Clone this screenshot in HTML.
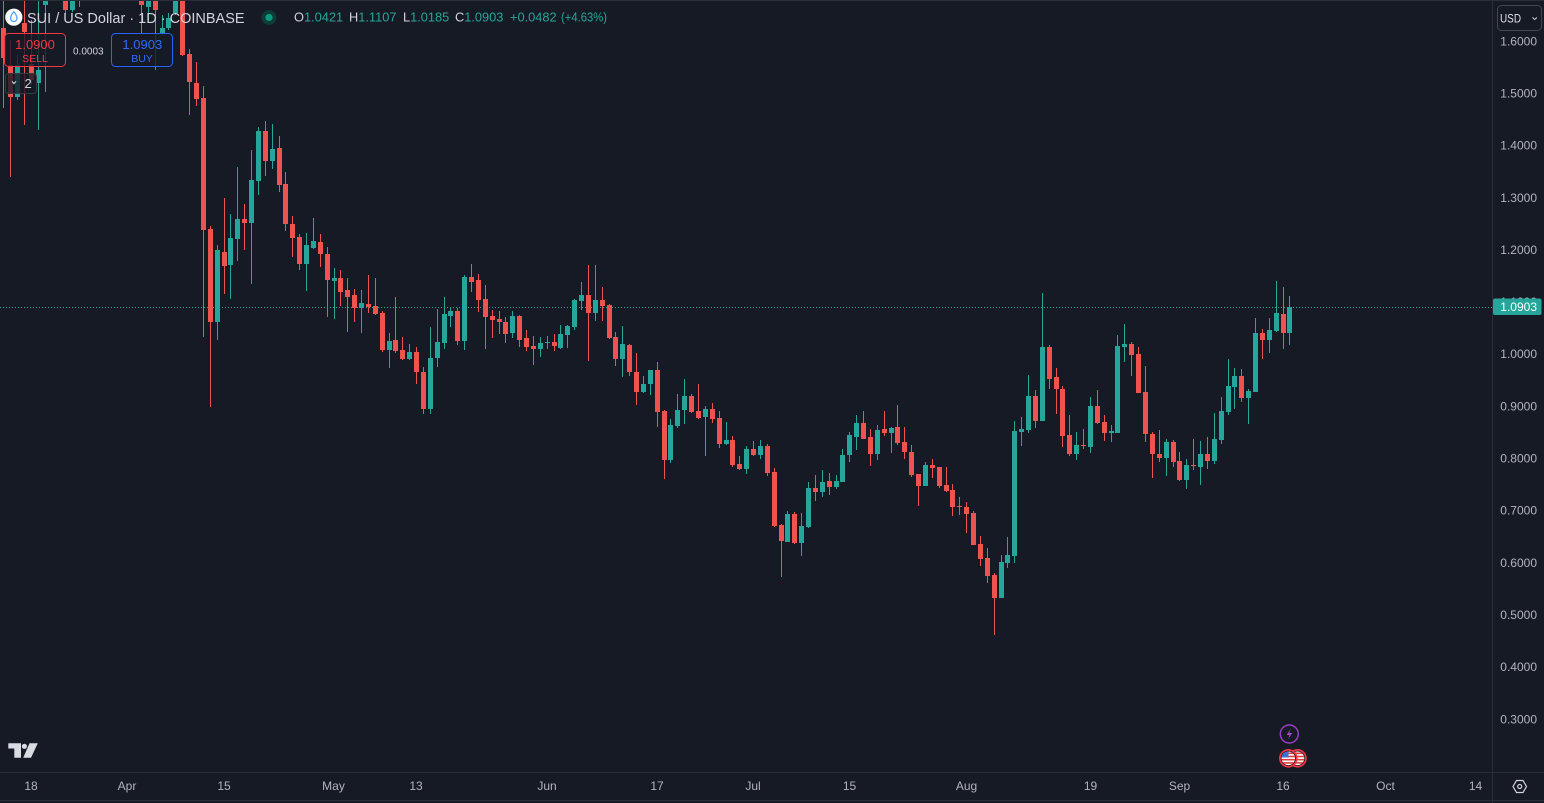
<!DOCTYPE html>
<html><head><meta charset="utf-8"><style>
html,body{margin:0;padding:0;background:#161a25;width:1544px;height:803px;overflow:hidden}
svg{display:block}
text{font-family:"Liberation Sans",Arial,sans-serif}
</style></head><body>
<svg width="1544" height="803" viewBox="0 0 1544 803" xmlns="http://www.w3.org/2000/svg">
<defs>
<clipPath id="pane"><rect x="0" y="1" width="1492" height="771"/></clipPath>
<clipPath id="f1"><circle cx="1288.3" cy="758.3" r="6.8"/></clipPath>
<clipPath id="f2"><circle cx="1297.5" cy="758.3" r="6.8"/></clipPath>
</defs>
<rect x="0" y="0" width="1544" height="803" fill="#161a25"/>

<!-- price line -->
<line x1="0" y1="307.5" x2="1492" y2="307.5" stroke="#26a69a" stroke-width="1" stroke-dasharray="1 2"/>

<g clip-path="url(#pane)">
<!-- green wicks -->
<path fill="none" stroke="#26a69a" stroke-width="1" d="M17.5 55V100M38.5 -10V130M45.5 -30V92M52.5 -60V-3M72.5 -40V12M79.5 -60V7M148.5 -30V20M162.5 15V35M168.5 13V30M175.5 -10V15M217.5 245V340M230.5 214V299M237.5 167V261M251.5 150V284M258.5 127V195M272.5 124V169M306.5 233V291M313.5 218V249M334.5 268V319M361.5 290V333M389.5 333V368M409.5 344V360M430.5 327V414M437.5 309V367M444.5 297V349M450.5 307V327M464.5 275V350M512.5 311V338M540.5 337V357M547.5 336V349M560.5 325V349M567.5 325V348M574.5 299V330M581.5 282V310M595.5 265V321M622.5 326V377M643.5 376V393M650.5 370V395M670.5 419V463M677.5 394V428M684.5 379V424M705.5 406V456M726.5 422V445M746.5 446V474M760.5 440V459M787.5 511V542M801.5 513V556M808.5 482V528M822.5 470V497M836.5 475V489M842.5 449V482M849.5 432V462M856.5 415V450M877.5 425V460M891.5 427V453M925.5 462V486M1001.5 555V598M1007.5 537V568M1014.5 421V563M1021.5 417V446M1028.5 375V433M1042.5 293V421M1076.5 432V460M1090.5 397V453M1111.5 425V442M1117.5 335V433M1124.5 324V362M1166.5 439V476M1186.5 459V489M1200.5 441V485M1214.5 413V464M1221.5 397V444M1228.5 359V415M1234.5 368V409M1248.5 389V424M1255.5 318V392M1269.5 318V353M1276.5 281V332M1289.5 296V345"/>
<!-- green bodies -->
<path fill="#26a69a" d="M15 65h5v32h-5zM36 70h5v13h-5zM43 -10h5v15h-5zM50 -40h5v30h-5zM70 -15h5v25h-5zM77 -40h5v30h-5zM146 -10h5v17h-5zM160 28h5v5h-5zM166 18h5v10h-5zM173 -5h5v18h-5zM215 250h5v72h-5zM228 238h5v27h-5zM235 219h5v20h-5zM249 180h5v43h-5zM256 131h5v50h-5zM270 149h5v12h-5zM304 245h5v19h-5zM311 241h5v7h-5zM332 278h5v3h-5zM359 303h5v5h-5zM387 341h5v9h-5zM407 352h5v7h-5zM428 358h5v51h-5zM435 342h5v16h-5zM442 314h5v29h-5zM448 311h5v5h-5zM462 277h5v64h-5zM510 316h5v17h-5zM538 343h5v6h-5zM545 342h5v1h-5zM558 334h5v14h-5zM565 326h5v9h-5zM572 300h5v27h-5zM579 295h5v6h-5zM593 300h5v13h-5zM620 344h5v15h-5zM641 384h5v8h-5zM648 370h5v14h-5zM668 425h5v35h-5zM675 410h5v16h-5zM682 396h5v14h-5zM703 409h5v8h-5zM724 440h5v4h-5zM744 449h5v20h-5zM758 446h5v9h-5zM785 514h5v28h-5zM799 526h5v17h-5zM806 488h5v39h-5zM820 482h5v10h-5zM834 481h5v6h-5zM840 455h5v27h-5zM847 435h5v20h-5zM854 423h5v14h-5zM875 430h5v24h-5zM889 428h5v5h-5zM923 465h5v21h-5zM999 562h5v36h-5zM1005 555h5v8h-5zM1012 431h5v125h-5zM1019 429h5v3h-5zM1026 396h5v34h-5zM1040 347h5v74h-5zM1074 445h5v9h-5zM1088 406h5v41h-5zM1109 431h5v2h-5zM1115 346h5v87h-5zM1122 344h5v3h-5zM1164 442h5v16h-5zM1184 465h5v15h-5zM1198 454h5v13h-5zM1212 439h5v22h-5zM1219 411h5v29h-5zM1226 386h5v26h-5zM1232 376h5v11h-5zM1246 391h5v7h-5zM1253 333h5v59h-5zM1267 330h5v10h-5zM1274 313h5v18h-5zM1287 307h5v26h-5z"/>
<!-- red wicks -->
<path fill="none" stroke="#ef5350" stroke-width="1" d="M3.5 -20V108M10.5 40V177M24.5 -10V125M31.5 20V85M65.5 -40V14M141.5 -40V33M155.5 -30V70M182.5 -5V56M189.5 49V115M196.5 62V106M203.5 86V337M210.5 226V407M224.5 198V294M244.5 204V250M265.5 121V176M279.5 136V192M285.5 172V231M292.5 216V257M299.5 234V270M320.5 234V267M327.5 247V317M340.5 270V306M347.5 278V332M354.5 289V322M368.5 275V313M375.5 278V315M382.5 311V352M395.5 297V353M402.5 337V360M416.5 347V384M423.5 367V414M457.5 308V345M471.5 264V292M478.5 274V312M485.5 285V349M492.5 310V338M499.5 311V334M505.5 317V343M519.5 315V347M526.5 330V351M533.5 336V365M554.5 334V351M588.5 265V361M602.5 287V321M609.5 304V339M615.5 332V366M629.5 344V376M636.5 353V405M657.5 362V427M664.5 410V479M691.5 394V413M698.5 384V419M712.5 403V423M719.5 411V448M732.5 436V467M739.5 456V470M753.5 441V456M767.5 444V476M774.5 468V527M781.5 524V577M794.5 512V544M815.5 475V501M829.5 473V495M863.5 411V439M870.5 429V466M884.5 411V436M897.5 405V445M904.5 427V459M911.5 445V477M918.5 474V506M932.5 459V478M939.5 467V488M946.5 467V492M952.5 484V516M959.5 497V515M966.5 502V533M973.5 511V545M980.5 536V566M987.5 548V583M994.5 573V635M1035.5 390V428M1049.5 345V389M1056.5 368V414M1062.5 386V447M1069.5 415V456M1083.5 429V449M1097.5 390V424M1104.5 415V441M1131.5 342V376M1138.5 347V393M1145.5 366V442M1152.5 432V478M1159.5 430V462M1173.5 440V467M1179.5 452V481M1193.5 439V470M1207.5 437V469M1241.5 369V402M1262.5 329V359M1283.5 287V349"/>
<!-- red bodies -->
<path fill="#ef5350" d="M1 28h5v30h-5zM8 65h5v32h-5zM22 23h5v9h-5zM29 64h5v16h-5zM63 -20h5v30h-5zM139 -20h5v25h-5zM153 -10h5v20h-5zM180 0h5v55h-5zM187 54h5v28h-5zM194 83h5v16h-5zM201 98h5v132h-5zM208 229h5v93h-5zM222 252h5v14h-5zM242 219h5v4h-5zM263 131h5v30h-5zM277 148h5v37h-5zM283 184h5v40h-5zM290 224h5v14h-5zM297 237h5v27h-5zM318 242h5v12h-5zM325 254h5v26h-5zM338 278h5v14h-5zM345 290h5v7h-5zM352 295h5v13h-5zM366 304h5v3h-5zM373 306h5v8h-5zM380 313h5v37h-5zM393 340h5v11h-5zM400 350h5v9h-5zM414 352h5v20h-5zM421 372h5v37h-5zM455 311h5v30h-5zM469 277h5v5h-5zM476 280h5v20h-5zM483 299h5v18h-5zM490 316h5v4h-5zM497 319h5v3h-5zM503 322h5v12h-5zM517 316h5v24h-5zM524 338h5v9h-5zM531 346h5v3h-5zM552 342h5v4h-5zM586 295h5v18h-5zM600 300h5v6h-5zM607 305h5v33h-5zM613 337h5v22h-5zM627 345h5v27h-5zM634 372h5v20h-5zM655 370h5v42h-5zM662 411h5v49h-5zM689 396h5v16h-5zM696 411h5v7h-5zM710 409h5v10h-5zM717 418h5v26h-5zM730 440h5v25h-5zM737 464h5v5h-5zM751 449h5v6h-5zM765 446h5v27h-5zM772 472h5v54h-5zM779 525h5v16h-5zM792 514h5v29h-5zM813 488h5v4h-5zM827 481h5v6h-5zM861 423h5v16h-5zM868 437h5v17h-5zM882 429h5v4h-5zM895 427h5v16h-5zM902 442h5v10h-5zM909 452h5v23h-5zM916 474h5v12h-5zM930 465h5v3h-5zM937 467h5v19h-5zM944 485h5v6h-5zM950 490h5v17h-5zM957 506h5v1h-5zM964 507h5v7h-5zM971 513h5v32h-5zM978 544h5v15h-5zM985 558h5v18h-5zM992 575h5v23h-5zM1033 396h5v25h-5zM1047 347h5v32h-5zM1054 377h5v12h-5zM1060 389h5v47h-5zM1067 435h5v19h-5zM1081 445h5v1h-5zM1095 406h5v17h-5zM1102 422h5v11h-5zM1129 344h5v11h-5zM1136 354h5v39h-5zM1143 392h5v42h-5zM1150 434h5v20h-5zM1157 454h5v4h-5zM1171 442h5v20h-5zM1177 461h5v19h-5zM1191 465h5v1h-5zM1205 454h5v7h-5zM1239 376h5v22h-5zM1260 333h5v7h-5zM1281 314h5v19h-5z"/>
</g>

<!-- axis borders -->
<line x1="0" y1="0.5" x2="1544" y2="0.5" stroke="#2a2e39"/>
<line x1="1492.5" y1="0" x2="1492.5" y2="803" stroke="#2a2e39"/>
<line x1="0" y1="772.5" x2="1544" y2="772.5" stroke="#2a2e39"/>
<line x1="0" y1="800.5" x2="1544" y2="800.5" stroke="#2a2e39"/>

<!-- price axis labels -->
<g font-size="12" fill="#b2b5be" text-anchor="end">
<text x="1537" y="45.3">1.6000</text>
<text x="1537" y="97.5">1.5000</text>
<text x="1537" y="149.6">1.4000</text>
<text x="1537" y="201.8">1.3000</text>
<text x="1537" y="253.9">1.2000</text>
<text x="1537" y="306.1">1.1000</text>
<text x="1537" y="358.2">1.0000</text>
<text x="1537" y="410.3">0.9000</text>
<text x="1537" y="462.5">0.8000</text>
<text x="1537" y="514.7">0.7000</text>
<text x="1537" y="566.8">0.6000</text>
<text x="1537" y="619">0.5000</text>
<text x="1537" y="671.2">0.4000</text>
<text x="1537" y="723.3">0.3000</text>
</g>
<!-- current price label -->
<rect x="1493" y="298.5" width="48.5" height="16.5" rx="2" fill="#26a69a"/>
<text x="1537" y="311" font-size="12" fill="#ffffff" text-anchor="end">1.0903</text>

<!-- USD button -->
<rect x="1497.5" y="5.5" width="44" height="25" rx="4" fill="#161a25" stroke="#434651"/>
<text x="1500" y="22.5" font-size="12" fill="#e0e3eb" textLength="21" lengthAdjust="spacingAndGlyphs">USD</text>
<path d="M1532.5 17.5l2.2 2l2.2 -2" fill="none" stroke="#d1d4dc" stroke-width="1"/>

<!-- time axis labels -->
<g font-size="12" fill="#b2b5be" text-anchor="middle">
<text x="31" y="790">18</text>
<text x="127" y="790">Apr</text>
<text x="224" y="790">15</text>
<text x="333.5" y="790">May</text>
<text x="416" y="790">13</text>
<text x="547" y="790">Jun</text>
<text x="657" y="790">17</text>
<text x="753" y="790">Jul</text>
<text x="849.5" y="790">15</text>
<text x="966.5" y="790">Aug</text>
<text x="1090.5" y="790">19</text>
<text x="1179.5" y="790">Sep</text>
<text x="1283" y="790">16</text>
<text x="1385.5" y="790">Oct</text>
<text x="1475.5" y="790">14</text>
</g>

<!-- settings icon -->
<path d="M1513 786.5L1516.5 780.5H1523L1526.5 786.5L1523 792.5H1516.5Z" fill="none" stroke="#d1d4dc" stroke-width="1.2"/>
<circle cx="1519.7" cy="786.5" r="2" fill="none" stroke="#d1d4dc" stroke-width="1.2"/>

<!-- TV logo -->
<path d="M8.3 743.3H21V757.7H14.3V748.5H8.3Z" fill="#d9dce3"/>
<circle cx="24.4" cy="746.3" r="2.6" fill="#d9dce3"/>
<path d="M29.5 743.3H37.8L31 757.7H23.2Z" fill="#d9dce3"/>

<!-- event icons -->
<circle cx="1289.3" cy="734" r="9" fill="#161a25" stroke="#9c3fc6" stroke-width="1.4"/>
<path d="M1290.8 728.8L1286.6 735H1289.5L1288 739.4L1292.2 733H1289.2Z" fill="#a349c9"/>
<circle cx="1297.5" cy="758.3" r="9.3" fill="#f23645"/>
<circle cx="1297.5" cy="758.3" r="7.6" fill="#161a25"/>
<g clip-path="url(#f2)">
<rect x="1290" y="751" width="16" height="16" fill="#ffffff"/>
<rect x="1290" y="752.5" width="16" height="1.6" fill="#e23b3b"/>
<rect x="1290" y="755.7" width="16" height="1.6" fill="#e23b3b"/>
<rect x="1290" y="758.9" width="16" height="1.6" fill="#e23b3b"/>
<rect x="1290" y="762.1" width="16" height="1.6" fill="#e23b3b"/>
</g>
<circle cx="1288.3" cy="758.3" r="9.3" fill="#f23645"/>
<circle cx="1288.3" cy="758.3" r="7.6" fill="#161a25"/>
<g clip-path="url(#f1)">
<rect x="1281" y="751" width="16" height="16" fill="#ffffff"/>
<rect x="1281" y="752.5" width="16" height="1.6" fill="#e23b3b"/>
<rect x="1281" y="755.7" width="16" height="1.6" fill="#e23b3b"/>
<rect x="1281" y="758.9" width="16" height="1.6" fill="#e23b3b"/>
<rect x="1281" y="762.1" width="16" height="1.6" fill="#e23b3b"/>
<rect x="1281" y="751" width="7.5" height="6.5" fill="#3c6fd8"/>
</g>

<!-- header legend -->
<circle cx="13.8" cy="17.2" r="8.6" fill="#ffffff"/>
<path d="M13.8 11.6C11.4 14.6 10.6 16.6 10.6 18.3A3.2 3.2 0 0 0 17 18.3C17 16.6 16.2 14.6 13.8 11.6Z" fill="none" stroke="#4da2ff" stroke-width="1.3"/>
<text x="27" y="23" font-size="14.5" fill="#d1d4dc">SUI / US Dollar · 1D · COINBASE</text>
<circle cx="269" cy="17.5" r="7.5" fill="#0d3b35"/>
<circle cx="269" cy="17.5" r="3.6" fill="#089981"/>
<g font-size="12.8">
<text x="294" y="21.5"><tspan fill="#d1d4dc">O</tspan><tspan fill="#26a69a">1.0421</tspan></text>
<text x="349" y="21.5"><tspan fill="#d1d4dc">H</tspan><tspan fill="#26a69a">1.1107</tspan></text>
<text x="403" y="21.5"><tspan fill="#d1d4dc">L</tspan><tspan fill="#26a69a">1.0185</tspan></text>
<text x="455" y="21.5"><tspan fill="#d1d4dc">C</tspan><tspan fill="#26a69a">1.0903</tspan></text>
<text x="510" y="21.5" fill="#26a69a">+0.0482</text>
<text x="561" y="21.5" fill="#26a69a" textLength="46" lengthAdjust="spacingAndGlyphs">(+4.63%)</text>
</g>

<!-- sell / buy -->
<rect x="4.5" y="33.5" width="61" height="33" rx="4" fill="rgba(22,26,37,0.8)" stroke="#f23645"/>
<text x="35" y="49" font-size="13" fill="#f23645" text-anchor="middle">1.0900</text>
<text x="35" y="62" font-size="10.5" fill="#f23645" text-anchor="middle">SELL</text>
<text x="88.3" y="54.5" font-size="10" fill="#d1d4dc" text-anchor="middle">0.0003</text>
<rect x="111.5" y="33.5" width="61" height="33" rx="4" fill="rgba(22,26,37,0.8)" stroke="#2962ff"/>
<text x="142.3" y="49" font-size="13" fill="#2f6bff" text-anchor="middle">1.0903</text>
<text x="142" y="62" font-size="10.5" fill="#2f6bff" text-anchor="middle">BUY</text>
<rect x="5.5" y="73.5" width="31" height="20" rx="3" fill="rgba(22,26,37,0.8)" stroke="#363a45"/>
<path d="M12 81.3l2 2.3l2 -2.3" fill="none" stroke="#d1d4dc" stroke-width="1.1"/>
<text x="24.5" y="88" font-size="13" fill="#d1d4dc">2</text>
</svg>
</body></html>
